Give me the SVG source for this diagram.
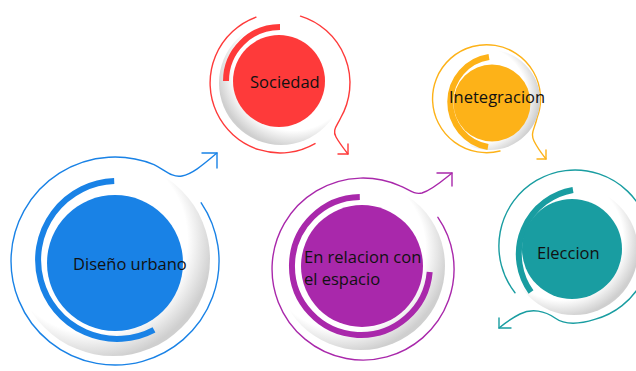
<svg xmlns="http://www.w3.org/2000/svg" width="636" height="371" viewBox="0 0 636 371">
  <defs>
    <radialGradient id="shBR" cx="0.4" cy="0.4" r="0.62">
      <stop offset="0" stop-color="#ffffff"/>
      <stop offset="0.78" stop-color="#ffffff"/>
      <stop offset="1" stop-color="#cfcfcf"/>
    </radialGradient>
    <radialGradient id="shBL" cx="0.6" cy="0.4" r="0.62">
      <stop offset="0" stop-color="#ffffff"/>
      <stop offset="0.78" stop-color="#ffffff"/>
      <stop offset="1" stop-color="#cfcfcf"/>
    </radialGradient>
    <radialGradient id="shR" cx="0.38" cy="0.45" r="0.62">
      <stop offset="0" stop-color="#ffffff"/>
      <stop offset="0.78" stop-color="#ffffff"/>
      <stop offset="1" stop-color="#cfcfcf"/>
    </radialGradient>
  </defs>
  <style>
    .ring { fill: none; stroke-width: 1.4; stroke-linecap: round; stroke-linejoin: round; }
    .arc { fill: none; stroke-width: 6; }
    .lbl { font-family: "Open Sans", "Liberation Sans", sans-serif; font-size: 16.5px; fill: #111; }
    .blue { stroke: #1982e6; } .blueF { fill: #1982e6; }
    .red { stroke: #fe3a3a; } .redF { fill: #fe3a3a; }
    .purple { stroke: #a928ab; } .purpleF { fill: #a928ab; }
    .orange { stroke: #fdb218; } .orangeF { fill: #fdb218; }
    .teal { stroke: #199da1; } .tealF { fill: #199da1; }
  </style>

  <g id="connectors">
    <!-- blue ring + tail -->
    <path class="ring blue" d="M201.2,202.8 A104,104 0 1 1 154,164.6 C165,170 172,178 182,176 C193,174 205,163 217,153"/>
    <polyline class="ring blue" points="202,153 217,153 217,168"/>
    <!-- red ring + tail -->
    <path class="ring red" d="M256,17.2 A70,70 0 1 0 315,143.6"/>
    <path class="ring red" d="M300.5,16.1 A70,70 0 0 1 340.6,118 C337,126 332,130 336,137 S344,149 348,154"/>
    <polyline class="ring red" points="338,154 348,154 348,144"/>
    <!-- purple ring + tail -->
    <path class="ring purple" d="M437.9,217.3 A91,91 0 1 1 400,185.9 C408,189 414,195 422,193 C432,190 442,181 452,173"/>
    <polyline class="ring purple" points="437,173 452,173 452,186"/>
    <!-- orange ring + tail -->
    <path class="ring orange" d="M500,151 A54,54 0 1 1 537,118 C535,128 530,133 534,141 S542,154 546,159"/>
    <polyline class="ring orange" points="537,159 546,159 546,150"/>
    <!-- teal ring + tail -->
    <path class="ring teal" d="M515,292.8 A76,76 0 1 1 594.7,319.4 C580,324 566,326 555,318 C545,311 532,308 520,314 C512,318 505,323 499,328"/>
    <polyline class="ring teal" points="511,328 499,328 499,318"/>
  </g>

  <g id="node-diseno">
    <circle cx="113" cy="259" r="97" fill="url(#shBR)"/>
    <path class="arc blue" stroke-width="7" d="M154,329.8 A79,79 0 1 1 114.2,181"/>
    <circle class="blueF" cx="115" cy="263" r="68"/>
    <text class="lbl" x="73" y="270">Diseño urbano</text>
  </g>

  <g id="node-sociedad">
    <circle cx="281" cy="83" r="62" fill="url(#shBL)"/>
    <path class="arc red" stroke-width="5.5" d="M280,27 A54,54 0 0 0 226,81"/>
    <circle class="redF" cx="279" cy="81" r="46"/>
    <text class="lbl" x="250" y="88">Sociedad</text>
  </g>

  <g id="node-espacio">
    <circle cx="361" cy="266" r="84" fill="url(#shBR)"/>
    <path class="arc purple" d="M429.7,272 A69,69 0 1 1 359.8,197"/>
    <circle class="purpleF" cx="362" cy="266" r="61"/>
    <text class="lbl" x="304" y="263">En relacion con</text>
    <text class="lbl" x="304" y="285">el espacio</text>
  </g>

  <g id="node-integracion">
    <circle cx="490" cy="100" r="50" fill="url(#shR)"/>
    <path class="arc orange" stroke-width="4.5" d="M489,57 A45.6,45.6 0 0 0 488,147"/>
    <circle class="orangeF" cx="492" cy="103" r="38.5"/>
    <text class="lbl" x="449" y="103">Inetegracion</text>
  </g>

  <g id="node-eleccion">
    <circle cx="574" cy="251" r="64" fill="url(#shBR)"/>
    <path class="arc teal" stroke-width="5.5" d="M573,190 A65,65 0 0 0 531,292"/>
    <circle class="tealF" cx="572" cy="249" r="50"/>
    <text class="lbl" x="537" y="259">Eleccion</text>
  </g>
</svg>
